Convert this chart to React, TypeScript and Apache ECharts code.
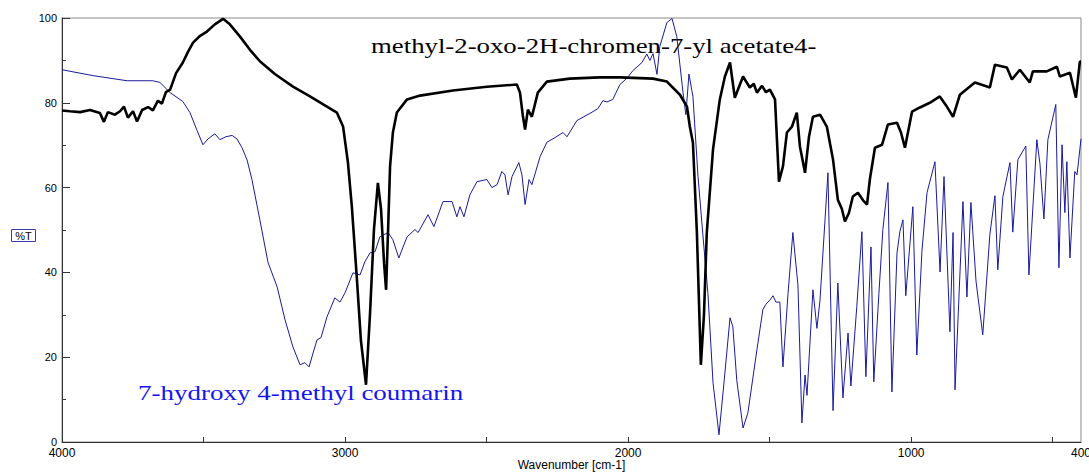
import React, { useEffect, useRef } from "react";
import * as echarts from "echarts";

// Wavenumber (cm-1), %T — methyl-2-oxo-2H-chromen-7-yl acetate (black)
const acetateSpectrum: [number, number][] = [
  [4000, 78.2], [3972, 78.0], [3936, 77.8], [3901, 78.3], [3866, 77.6], [3852, 75.5], [3838, 77.8],
  [3813, 77.2], [3795, 78.0], [3781, 79.1], [3767, 76.5], [3749, 78.0], [3735, 75.6], [3717, 78.3],
  [3696, 79.0], [3679, 78.2], [3661, 80.5], [3647, 79.8], [3633, 82.5], [3618, 83.1], [3597, 87.0],
  [3573, 89.5], [3555, 92.0], [3537, 94.2], [3512, 95.8], [3488, 96.8], [3460, 98.5], [3431, 99.8],
  [3407, 98.5], [3371, 95.6], [3336, 92.5], [3301, 89.8], [3248, 86.8], [3184, 83.8], [3124, 81.5],
  [3064, 79.1], [3029, 77.7], [3007, 74.4], [2990, 66], [2976, 55.5], [2958, 38.3], [2944, 24],
  [2926, 13.5], [2912, 30], [2898, 50], [2884, 61.1], [2873, 55], [2862, 42], [2855, 35.9],
  [2848, 50], [2841, 65], [2831, 73], [2817, 77.7], [2781, 80.8], [2735, 81.7], [2619, 82.9],
  [2499, 83.8], [2393, 84.3], [2382, 82.4], [2372, 77], [2364, 73.7], [2354, 78.4], [2340, 76.7],
  [2319, 82.4], [2287, 85.0], [2206, 85.7], [2100, 86.0], [2029, 86.0], [1912, 85.7], [1863, 85.0],
  [1817, 81.9], [1792, 79.1], [1782, 74.4], [1771, 70.6], [1757, 49.4], [1743, 18.2], [1732, 30],
  [1722, 49.4], [1700, 69.0], [1676, 80.8], [1658, 86.2], [1640, 89.5], [1623, 81.2], [1594, 86.2],
  [1570, 83.6], [1556, 84.5], [1545, 82.4], [1527, 84], [1513, 82.5], [1499, 83.1], [1481, 80.8],
  [1467, 61.4], [1453, 65], [1439, 73.0], [1421, 74.4], [1404, 77.7], [1393, 69.7], [1375, 63.5],
  [1361, 72], [1347, 76.7], [1322, 77.2], [1298, 74.4], [1276, 66.6], [1259, 57.1], [1245, 55],
  [1234, 52.0], [1220, 54], [1206, 57.9], [1188, 58.8], [1170, 57], [1156, 56.0], [1146, 61.9],
  [1128, 69.4], [1103, 70.1], [1082, 74.9], [1050, 75.3], [1036, 73], [1022, 69.4], [997, 77.9],
  [969, 78.9], [934, 80.0], [899, 81.5], [874, 79.1], [852, 76.7], [828, 81.9], [775, 84.8],
  [740, 84], [722, 83.6], [704, 89.0], [662, 88.3], [644, 85.5], [616, 87.8], [581, 84.8],
  [570, 87.4], [521, 87.4], [485, 88.5], [475, 86.2], [439, 87.1], [418, 81.2], [404, 89.7], [400, 89.7],
];

// Wavenumber (cm-1), %T — 7-hydroxy 4-methyl coumarin (blue)
const coumarinSpectrum: [number, number][] = [
  [4000, 87.8], [3890, 86.4], [3770, 85.2], [3679, 85.2], [3654, 84.8], [3618, 82.4], [3573, 80.3],
  [3548, 77.7], [3523, 73.5], [3502, 70.1], [3484, 71.5], [3460, 72.7], [3442, 71.3], [3421, 72.0],
  [3399, 72.3], [3382, 71.5], [3364, 69.4], [3346, 66.5], [3329, 61.9], [3301, 52.4], [3272, 42.3],
  [3240, 36.6], [3212, 28.8], [3184, 22.4], [3159, 18.2], [3142, 18.7], [3127, 17.7], [3113, 21],
  [3099, 24.1], [3085, 24.6], [3064, 29.5], [3036, 34.0], [3018, 33.0], [3000, 35.2], [2972, 39.9],
  [2947, 39.4], [2930, 42.5], [2912, 44.6], [2894, 44.9], [2877, 48.4], [2848, 49.4], [2831, 47.7],
  [2810, 43.4], [2781, 48.4], [2753, 50.1], [2742, 49.4], [2707, 53.6], [2686, 50.8], [2654, 56.7],
  [2622, 56.7], [2605, 53.1], [2594, 55.5], [2580, 53.1], [2559, 58.3], [2534, 61.4], [2499, 61.9],
  [2481, 60.0], [2463, 60.7], [2446, 63.8], [2435, 63.0], [2424, 58.3], [2410, 62.6], [2386, 65.9],
  [2375, 63.0], [2364, 56.0], [2350, 61.9], [2340, 60.7], [2311, 67.3], [2287, 70.7], [2258, 71.8],
  [2230, 73.0], [2216, 72.0], [2181, 75.8], [2135, 77.5], [2107, 78.6], [2089, 80.5], [2075, 80.2],
  [2054, 80.8], [2029, 84.3], [2004, 85.8], [1983, 87.6], [1951, 89.5], [1934, 91.5], [1923, 90.0],
  [1912, 91.6], [1898, 86.7], [1888, 93.3], [1863, 98.9], [1845, 99.9], [1828, 95.6], [1806, 82.4],
  [1796, 77.2], [1785, 86.8], [1771, 81.5], [1753, 62.6], [1736, 49.0], [1718, 35.0], [1700, 14.0],
  [1679, 1.7], [1658, 16.3], [1640, 29.3], [1630, 27.2], [1616, 14.5], [1594, 3.3], [1577, 6.8],
  [1545, 21.7], [1524, 31.2], [1513, 32.5], [1499, 33.5], [1488, 34.5], [1478, 33.0], [1464, 33.0],
  [1453, 17.7], [1435, 35.0], [1418, 49.4], [1400, 37.0], [1386, 4.5], [1375, 15.8], [1368, 11.0],
  [1347, 35.9], [1333, 26.8], [1322, 33.5], [1294, 63.5], [1276, 7.4], [1259, 37.5], [1241, 10.4],
  [1223, 25.7], [1213, 13.2], [1192, 32], [1174, 49.6], [1160, 15.4], [1142, 46.0], [1132, 14.2],
  [1114, 35], [1100, 50.1], [1082, 61.2], [1068, 11.8], [1050, 44.6], [1040, 49.6], [1029, 52.4],
  [1019, 34.5], [994, 55.5], [980, 20.5], [962, 45], [944, 58.8], [916, 66.1], [898, 40.1],
  [884, 62.6], [863, 26.0], [852, 49.4], [845, 12.3], [817, 56.7], [803, 34.2], [789, 56.5],
  [771, 38.0], [764, 34.2], [747, 25.3], [722, 48.9], [704, 58.1], [694, 40.6], [676, 57.9],
  [651, 65.9], [641, 49.5], [623, 66.6], [595, 69.8], [584, 39.4], [556, 71.3], [545, 65.6],
  [531, 52.6], [517, 71.3], [489, 79.6], [478, 41.1], [467, 70.1], [457, 54.1], [450, 66.1],
  [439, 43.4], [422, 63.8], [414, 63.0], [400, 71.5],
];

const xLabelValues = [4000, 3000, 2000, 1000, 400];
const xTickValues = [4000, 3500, 3000, 2500, 2000, 1500, 1000, 500];
const titleBlack = "methyl-2-oxo-2H-chromen-7-yl acetate4-";
const titleBlue = "7-hydroxy 4-methyl coumarin";

export default function App() {
  const ref = useRef<HTMLDivElement>(null);
  useEffect(() => {
    if (!ref.current) return;
    const chart = echarts.init(ref.current, undefined, { renderer: "svg" });
    chart.setOption({
      animation: false,
      backgroundColor: "#ffffff",
      grid: {
        left: 62, right: 8, top: 18, bottom: 30,
        containLabel: false, outerBoundsMode: "none",
        show: true, borderColor: "#8a8a8a", borderWidth: 1,
      },
      xAxis: {
        type: "value", inverse: true, min: 400, max: 4000,
        name: "Wavenumber [cm-1]", nameLocation: "middle", nameGap: 17, nameMoveOverlap: false,
        nameTextStyle: { fontFamily: "Liberation Sans", fontSize: 12, lineHeight: 12, color: "#000" },
        axisLine: { show: true, lineStyle: { color: "#333", width: 1 } },
        axisTick: { show: true, inside: true, length: 5, customValues: xTickValues, lineStyle: { color: "#333" } },
        axisLabel: {
          customValues: xLabelValues, margin: 5, color: "#000",
          fontFamily: "Liberation Sans", fontSize: 12, lineHeight: 11,
          formatter: (v: number) => String(v),
        },
        splitLine: { show: false },
      },
      yAxis: {
        type: "value", min: 0, max: 100, interval: 20,
        axisLine: { show: true, lineStyle: { color: "#333", width: 1 } },
        axisTick: { show: true, inside: true, length: 8, lineStyle: { color: "#333" } },
        minorTick: { show: true, splitNumber: 2, length: 4, lineStyle: { color: "#333" } },
        axisLabel: {
          margin: 5, color: "#000", fontFamily: "Liberation Sans", fontSize: 11, lineHeight: 9,
          formatter: (v: number) => String(v),
        },
        splitLine: { show: false },
      },
      graphic: [
        {
          type: "text", x: 371, y: 46, scaleX: 1.34,
          style: { text: titleBlack, fill: "#000", font: "20px 'Liberation Serif'", verticalAlign: "middle", align: "left" },
        },
        {
          type: "text", x: 138, y: 393, scaleX: 1.35,
          style: { text: titleBlue, fill: "#1515ee", font: "20px 'Liberation Serif'", verticalAlign: "middle", align: "left" },
        },
        {
          type: "rect", shape: { x: 11.5, y: 229.5, width: 24, height: 12 },
          style: { fill: "#fff", stroke: "#3a3ab0", lineWidth: 1 },
        },
        {
          type: "text", x: 23.5, y: 236,
          style: { text: "%T", fill: "#000", font: "11px 'Liberation Sans'", verticalAlign: "middle", align: "center" },
        },
      ],
      series: [
        {
          type: "line", data: coumarinSpectrum, showSymbol: false, symbol: "none",
          lineStyle: { color: "#1a1a9c", width: 1 }, z: 2,
        },
        {
          type: "line", data: acetateSpectrum, showSymbol: false, symbol: "none",
          lineStyle: { color: "#000", width: 2.6 }, z: 3,
        },
      ],
    });
    return () => chart.dispose();
  }, []);
  return <div ref={ref} style={{ position: "absolute", left: 0, top: 0, width: 1089, height: 472 }} />;
}
